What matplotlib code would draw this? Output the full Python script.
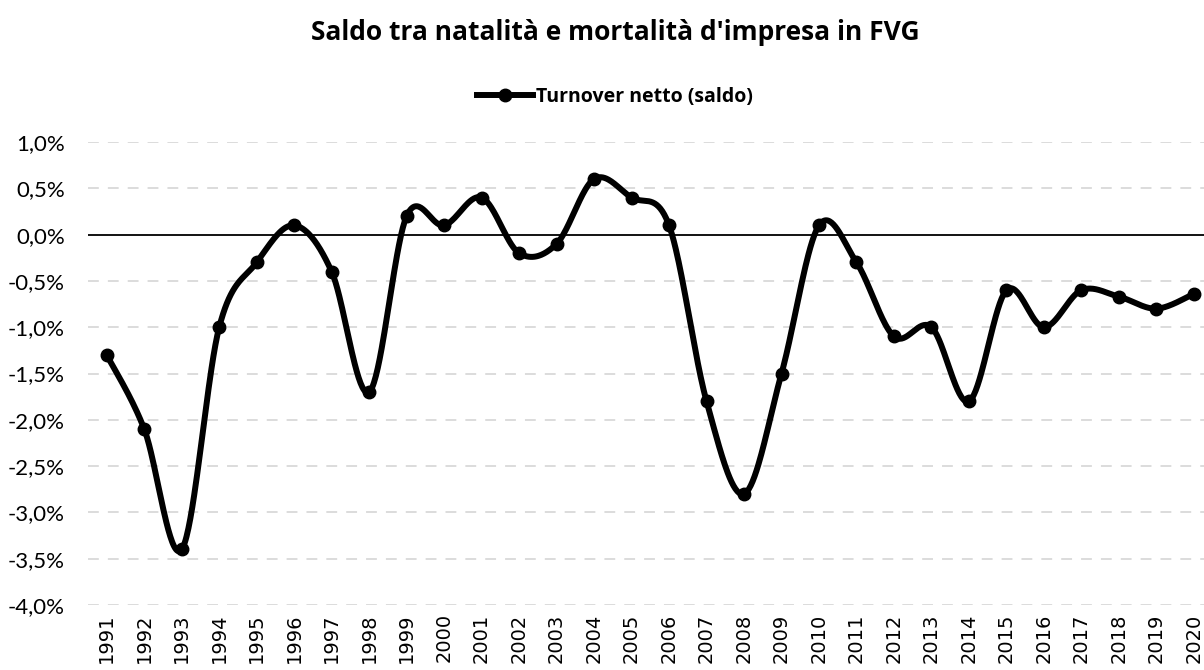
import numpy as np
import matplotlib
matplotlib.use("Agg")
import matplotlib.pyplot as plt
from matplotlib.lines import Line2D
from matplotlib.ticker import FuncFormatter

# data (percent)
years = [str(y) for y in range(1991, 2021)]
saldo = [-1.3, -2.1, -3.4, -1.0, -0.3, 0.1, -0.4, -1.7, 0.2, 0.1,
         0.4, -0.2, -0.1, 0.6, 0.4, 0.1, -1.8, -2.8, -1.5, 0.1,
         -0.3, -1.1, -1.0, -1.8, -0.6, -1.0, -0.6, -0.67, -0.8, -0.64]
y_ticks = [1.0, 0.5, 0.0, -0.5, -1.0, -1.5, -2.0, -2.5, -3.0, -3.5, -4.0]

title = "Saldo tra natalità e mortalità d'impresa in FVG"
series_name = "Turnover netto (saldo)"


def smooth_curve(x, y, n=40):
    # Excel-like smoothed line: cubic bezier segments with catmull-rom control points
    x = np.asarray(x, float)
    y = np.asarray(y, float)
    pts = np.column_stack([x, y])
    out = [pts[0]]
    t = np.linspace(0, 1, n)[1:, None]
    for i in range(len(pts) - 1):
        p0 = pts[i - 1] if i > 0 else pts[i]
        p1 = pts[i]
        p2 = pts[i + 1]
        p3 = pts[i + 2] if i + 2 < len(pts) else pts[i + 1]
        c1 = p1 + (p2 - p0) / 6.0
        c2 = p2 - (p3 - p1) / 6.0
        seg = ((1 - t) ** 3) * p1 + 3 * ((1 - t) ** 2) * t * c1 \
            + 3 * (1 - t) * t ** 2 * c2 + t ** 3 * p2
        out.extend(seg)
    out = np.array(out)
    return out[:, 0], out[:, 1]


W, H = 1204, 670
fig = plt.figure(figsize=(W / 100, H / 100), dpi=100)
top, bottom = 142, 605
ax = fig.add_axes([88 / W, 1 - bottom / H, (W - 88) / W, (bottom - top) / H])

xs = np.arange(len(years))
sx, sy = smooth_curve(xs, saldo)
ax.plot(sx, sy, color="black", lw=4.3, solid_capstyle="round", zorder=3)
ax.plot(xs, saldo, "o", color="black", ms=9, zorder=4)

ax.set_xlim(-0.5, 29.27)
ax.set_ylim(-4.0, 1.0)
ax.set_yticks(y_ticks)
ax.yaxis.set_major_formatter(FuncFormatter(lambda v, p: f"{v:.1f}%".replace(".", ",")))
for v in y_ticks:
    if v == 0:
        ax.axhline(v, color="black", lw=1.3, zorder=2)
    else:
        ax.axhline(v, color="#d9d9d9", lw=1.3, ls=(0, (6, 5)), zorder=1)

ax.set_xticks(xs)
ax.set_xticklabels(years, rotation=90, family="DejaVu Sans", fontsize=14)
for lab in ax.get_yticklabels():
    lab.set_family("Lato")
    lab.set_fontsize(16)
ax.tick_params(axis="both", length=0)
ax.tick_params(axis="x", pad=6)
ax.tick_params(axis="y", pad=16.5)
for s in ax.spines.values():
    s.set_visible(False)

# the original chart area is a bit wider than the crop, so centre is right of middle
cx = 615 / W
fig.text(cx, 1 - 40 / H, title, ha="center", va="baseline",
         fontsize=19, fontweight="bold", family="Open Sans")

handle = Line2D([], [], color="black", lw=4.3, marker="o", ms=9)
fig.legend([handle], [series_name], loc="center", bbox_to_anchor=(cx, 1 - 97 / H),
           frameon=False, handlelength=2.9, handletextpad=0.15,
           prop={"family": "Open Sans", "weight": "bold", "size": 14})

fig.savefig("out.png", dpi=100)
